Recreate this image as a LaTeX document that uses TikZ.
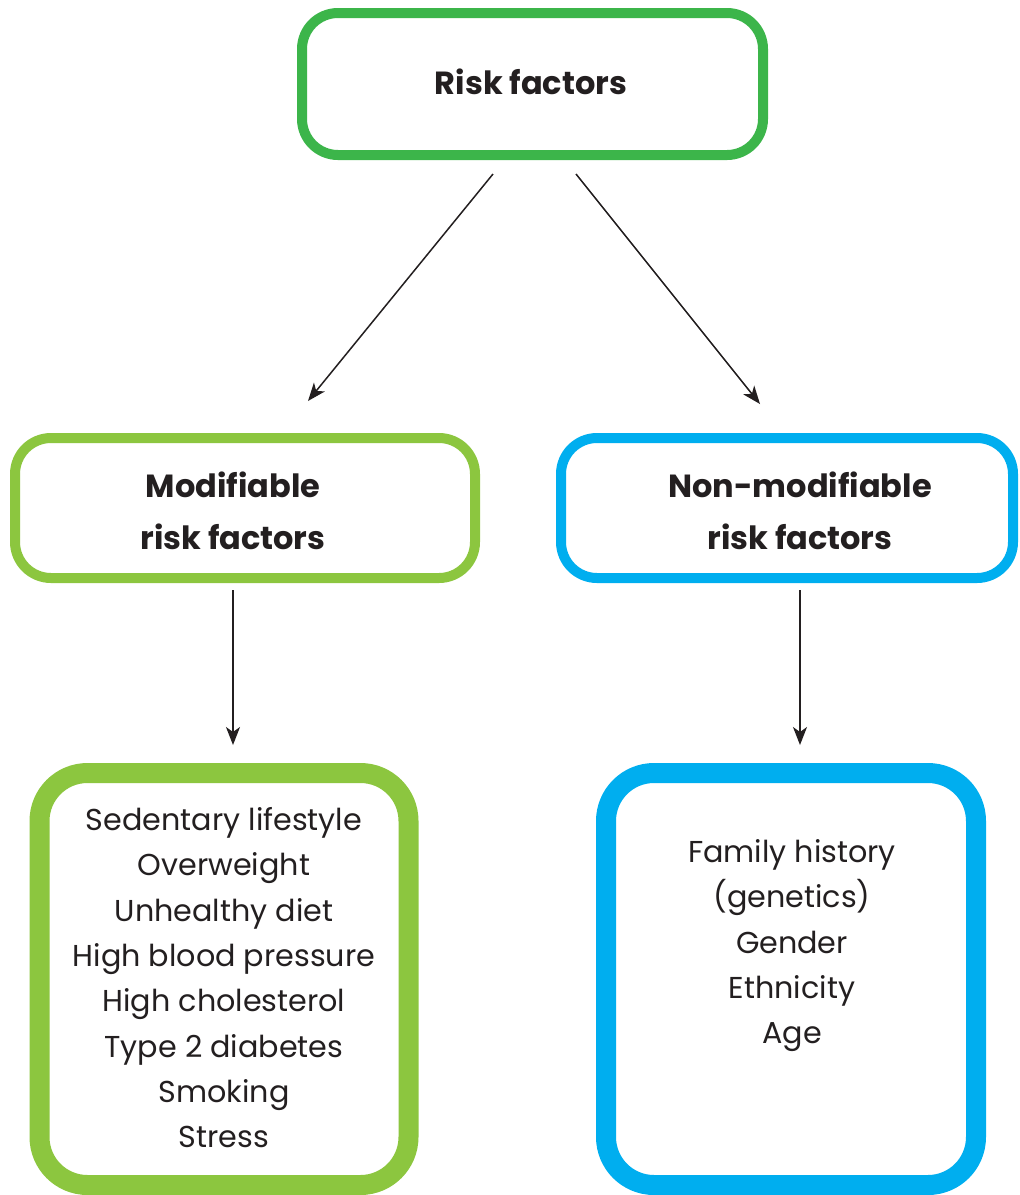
\documentclass[tikz,border=0pt]{standalone}
\usepackage{fontspec}
\setmainfont{Poppins}
\usetikzlibrary{arrows.meta}
\definecolor{topgreen}{HTML}{3CB54A}
\definecolor{lgreen}{HTML}{8CC63F}
\definecolor{cyanb}{HTML}{00AEEF}
\definecolor{ink}{HTML}{231F20}
\begin{document}
\begin{tikzpicture}[x=1pt,y=-1pt,
  headbox/.style={draw, line width=10pt, rounded corners=36pt, fill=white, inner sep=0pt},
  listbox/.style={draw, line width=20pt, rounded corners=48pt, fill=white, inner sep=0pt},
  headtxt/.style={text=ink, font=\fontsize{32}{52}\selectfont\bfseries, align=center},
  listtxt/.style={text=ink, font=\fontsize{30.2}{45.3}\selectfont, align=center},
  conn/.style={draw=ink, line width=1.5pt, -{Stealth[length=18pt,width=14pt,inset=5pt]}}]
\useasboundingbox (0,0) rectangle (1020,1195);
% boxes
\node[headbox, draw=topgreen, minimum width=461pt, minimum height=142pt] (top) at (532.5,84) {};
\node[headbox, draw=lgreen, minimum width=460pt, minimum height=140pt] (mod) at (245,508) {};
\node[headbox, draw=cyanb, minimum width=452pt, minimum height=140pt] (non) at (787,508) {};
\node[listbox, draw=lgreen, minimum width=369pt, minimum height=412pt] (ml) at (224,979) {};
\node[listbox, draw=cyanb, minimum width=370pt, minimum height=412pt] (nl) at (791,979) {};
% texts
\node[headtxt] (topt) at (531,82) {Risk factors};
\node[headtxt] (modt) at (233,511) {Modifiable\\risk factors};
\node[headtxt] (nont) at (800,511) {Non-modifiable\\risk factors};
\node[listtxt, anchor=north] (mlt) at (224,804) {Sedentary lifestyle\\Overweight\\Unhealthy diet\\High blood pressure\\High cholesterol\\Type 2 diabetes\\Smoking\\Stress};
\node[listtxt, anchor=north] (nlt) at (792,836) {Family history\\(genetics)\\Gender\\Ethnicity\\Age};
% connector ends
\coordinate (a1s) at (493,174);
\coordinate (a1e) at (308,401);
\coordinate (a2s) at (576,174);
\coordinate (a2e) at (760,404);
\coordinate (a3s) at (233,590);
\coordinate (a3e) at (233,745);
\coordinate (a4s) at (800,590);
\coordinate (a4e) at (800,745);
\draw[conn] (a1s) -- (a1e);
\draw[conn] (a2s) -- (a2e);
\draw[conn] (a3s) -- (a3e);
\draw[conn] (a4s) -- (a4e);
\end{tikzpicture}
\end{document}
